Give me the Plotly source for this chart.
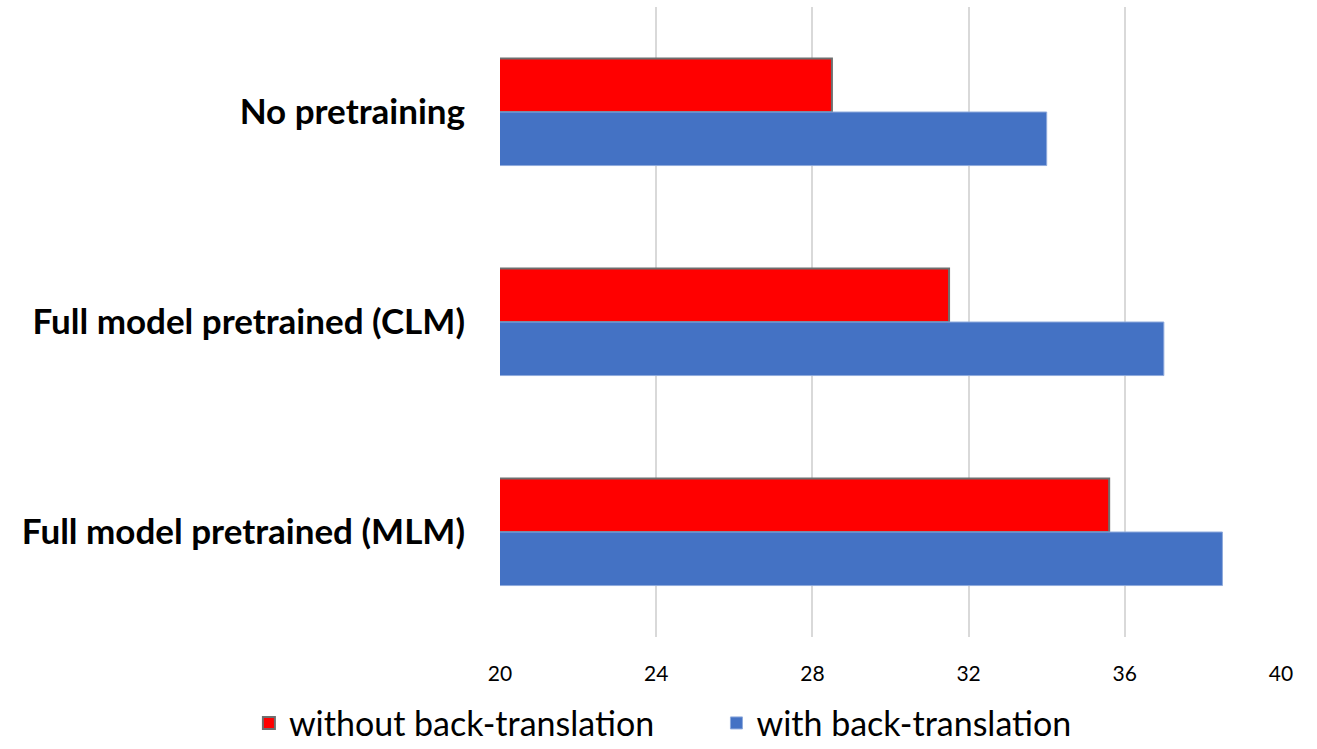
import plotly.graph_objects as go

categories = ["No pretraining", "Full model pretrained (CLM)", "Full model pretrained (MLM)"]
without_bt = [28.5, 31.5, 35.6]
with_bt = [34.0, 37.0, 38.5]
tick_vals = [20, 24, 28, 32, 36, 40]

fig = go.Figure()
fig.add_trace(go.Bar(
    y=categories, x=without_bt, orientation="h", name="without back-translation",
    marker=dict(color="#FF0000", line=dict(color="#6E6E6E", width=2)),
    legend="legend",
))
fig.add_trace(go.Bar(
    y=categories, x=with_bt, orientation="h", name="with back-translation",
    marker=dict(color="#4472C4", line=dict(color="#8FAADC", width=1)),
    legend="legend2",
))

legend_common = dict(
    orientation="h", xref="container", yref="paper",
    xanchor="left", y=-0.137, yanchor="middle",
    font=dict(size=34, family="Lato, Liberation Sans, sans-serif", color="black"),
    itemwidth=30, bgcolor="rgba(0,0,0,0)",
)

fig.update_layout(
    width=1317, height=749,
    margin=dict(l=500, r=36, t=7, b=112, autoexpand=False),
    barmode="group",
    bargap=0.49,
    bargroupgap=0,
    plot_bgcolor="white",
    paper_bgcolor="white",
    font=dict(family="Lato, Liberation Sans, sans-serif", color="black"),
    xaxis=dict(
        range=[20, 40], tickvals=tick_vals, showgrid=True, gridcolor="#D9D9D9", gridwidth=2,
        zeroline=False, showline=False, tickfont=dict(size=21), ticks="",
        ticklabelstandoff=22,
    ),
    yaxis=dict(
        autorange="reversed", showgrid=False, showline=False, zeroline=False,
        tickfont=dict(size=35, family="Lato, Liberation Sans, sans-serif", weight="bold"),
        ticks="", ticklabelstandoff=34,
    ),
    legend=dict(x=0.189, **legend_common),
    legend2=dict(x=0.544, **legend_common),
    showlegend=True,
)

fig.write_html("out.html")
